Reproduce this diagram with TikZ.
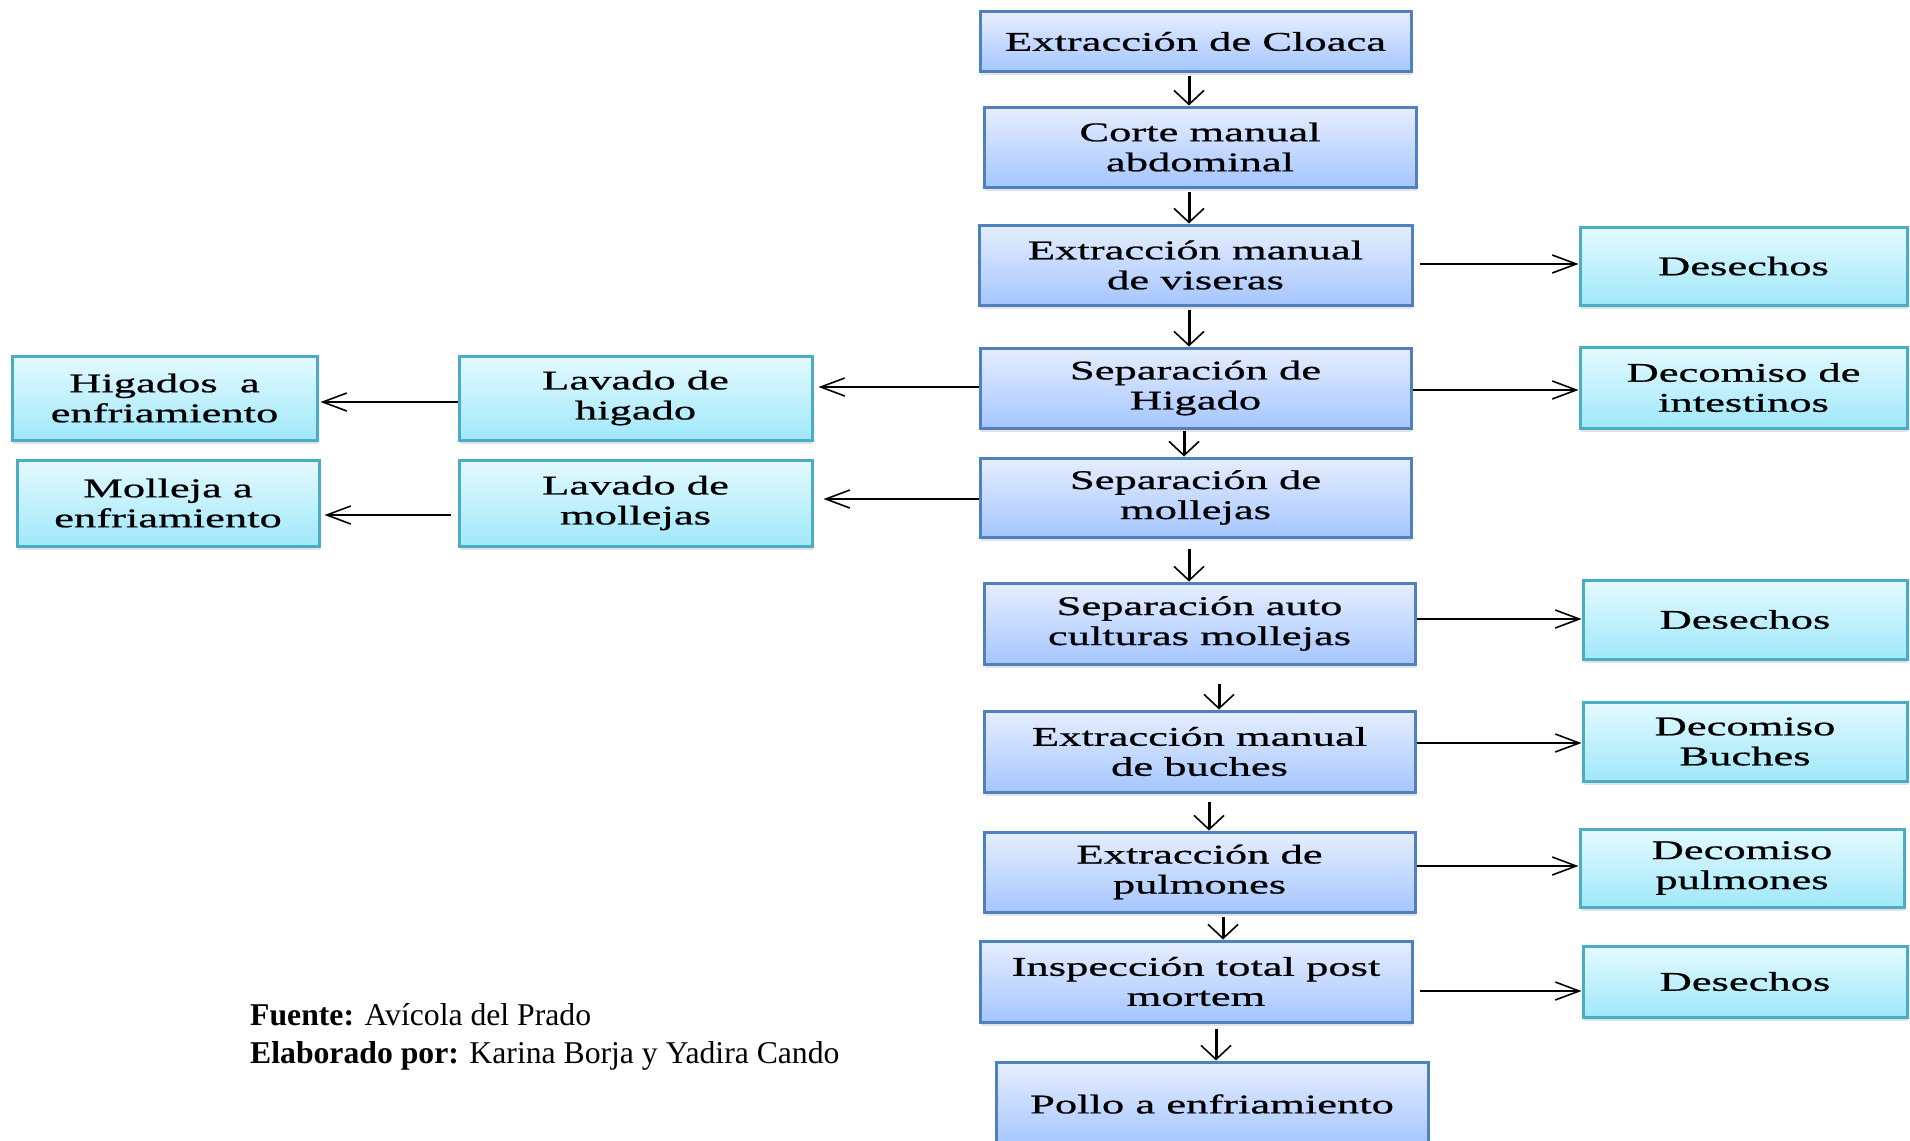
\documentclass[tikz,border=0pt]{standalone}
\usepackage{fontspec}
\setmainfont{Liberation Serif}
\newfontfamily\bxfont[FakeStretch=1.65,FakeBold=0.8]{Liberation Serif}
\usetikzlibrary{arrows.meta,shadows,calc}
\definecolor{mainborder}{RGB}{79,129,189}
\definecolor{maintop}{RGB}{230,238,255}
\definecolor{mainbot}{RGB}{165,198,255}
\definecolor{cyborder}{RGB}{75,172,198}
\definecolor{cytop}{RGB}{228,250,255}
\definecolor{cybot}{RGB}{160,232,250}
\tikzset{
  boxtext/.style={font=\bxfont\fontsize{27}{30}\selectfont, align=center, text=black, inner sep=0pt},
  mainbox/.style={boxtext, draw=mainborder, line width=3pt, top color=maintop, bottom color=mainbot,
    drop shadow={opacity=0.22, shadow xshift=1pt, shadow yshift=-4pt}},
  cybox/.style={boxtext, draw=cyborder, line width=3pt, top color=cytop, bottom color=cybot,
    drop shadow={opacity=0.22, shadow xshift=1pt, shadow yshift=-4pt}},
  varr/.style={line width=3pt, -{Straight Barb[length=14pt,width=30pt,line width=1.6pt]}},
  harr/.style={line width=2.5pt, -{Straight Barb[length=24pt,width=18pt,line width=1.6pt]}},
  foot/.style={font=\fontsize{31.7}{38}\selectfont, anchor=base west, inner sep=0pt}
}
\begin{document}
\begin{tikzpicture}[x=1pt,y=-1pt]
\useasboundingbox (0,0) rectangle (1910,1140);
% main column
\node[mainbox, minimum width=431pt, minimum height=59pt] (M1) at (1195.5,41.5) {Extracción de Cloaca};
\node[mainbox, minimum width=432pt, minimum height=80pt] (M2) at (1200,147) {Corte manual\\abdominal};
\node[mainbox, minimum width=433pt, minimum height=80pt] (M3) at (1195.5,265) {Extracción manual\\de viseras};
\node[mainbox, minimum width=431pt, minimum height=80pt] (M4) at (1195.5,388) {Separación de\\Higado};
\node[mainbox, minimum width=431pt, minimum height=79pt] (M5) at (1195.5,497.5) {Separación de\\mollejas};
\node[mainbox, minimum width=431pt, minimum height=81pt] (M6) at (1199.5,623.5) {Separación auto\\culturas mollejas};
\node[mainbox, minimum width=431pt, minimum height=81pt] (M7) at (1199.5,751.5) {Extracción manual\\de buches};
\node[mainbox, minimum width=431pt, minimum height=80pt] (M8) at (1199.5,872) {Extracción de\\pulmones};
\node[mainbox, minimum width=432pt, minimum height=81pt] (M9) at (1196,981.5) {Inspección total post\\mortem};
\node[mainbox, minimum width=432pt, minimum height=84pt] (M10) at (1212,1104) {Pollo a enfriamiento};
% right column
\node[cybox, minimum width=327pt, minimum height=78pt] (R1) at (1743.5,266) {Desechos};
\node[cybox, minimum width=327pt, minimum height=81pt] (R2) at (1743.5,387.5) {Decomiso de\\intestinos};
\node[cybox, minimum width=324pt, minimum height=79pt] (R3) at (1745,619.5) {Desechos};
\node[cybox, minimum width=324pt, minimum height=79pt] (R4) at (1745,741.5) {Decomiso\\Buches};
\node[cybox, minimum width=324pt, minimum height=78pt] (R5) at (1742,868) {Decomiso\\pulmones};
\node[cybox, minimum width=324pt, minimum height=71pt] (R6) at (1745,981.5) {Desechos};
% left columns
\node[cybox, minimum width=305pt, minimum height=84pt] (L1) at (164.5,398) {Higados\ \ a\\enfriamiento};
\node[cybox, minimum width=353pt, minimum height=84pt] (L2) at (635.5,398) {Lavado de\\higado};
\node[cybox, minimum width=302pt, minimum height=86pt] (L3) at (168,503) {Molleja a\\enfriamiento};
\node[cybox, minimum width=353pt, minimum height=86pt] (L4) at (635.5,503) {Lavado de\\mollejas};
% vertical arrows
\draw[varr, shorten <=3pt] ([xshift=-6.5pt]M1.south) -- ([xshift=-6.5pt]M1.south |- M2.north);
\draw[varr, shorten <=3pt] ([xshift=-11pt]M2.south) -- ([xshift=-11pt]M2.south |- M3.north);
\draw[varr, shorten <=3pt] ([xshift=-6.5pt]M3.south) -- ([xshift=-6.5pt]M3.south |- M4.north);
\draw[varr, shorten <=1pt] ([xshift=-11.5pt]M4.south) -- ([xshift=-11.5pt]M4.south |- M5.north);
\draw[varr, shorten <=10pt] ([xshift=-6.5pt]M5.south) -- ([xshift=-6.5pt]M5.south |- M6.north);
\draw[varr, shorten <=18pt] ([xshift=19.5pt]M6.south) -- ([xshift=19.5pt]M6.south |- M7.north);
\draw[varr, shorten <=8pt] ([xshift=9.5pt]M7.south) -- ([xshift=9.5pt]M7.south |- M8.north);
\draw[varr, shorten <=3pt] ([xshift=23.5pt]M8.south) -- ([xshift=23.5pt]M8.south |- M9.north);
\draw[varr, shorten <=5pt] ([xshift=20pt]M9.south) -- ([xshift=20pt]M9.south |- M10.north);
% right arrows
\draw[harr] ([xshift=6pt,yshift=1pt]M3.east) -- ([yshift=1pt]M3.east -| R1.west);
\draw[harr] ([yshift=-2pt]M4.east) -- ([yshift=-2pt]M4.east -| R2.west);
\draw[harr] ([yshift=4.5pt]M6.east) -- ([yshift=4.5pt]M6.east -| R3.west);
\draw[harr] ([yshift=8.5pt]M7.east) -- ([yshift=8.5pt]M7.east -| R4.west);
\draw[harr] ([yshift=6pt]M8.east) -- ([yshift=6pt]M8.east -| R5.west);
\draw[harr] ([xshift=6pt,yshift=-9.5pt]M9.east) -- ([yshift=-9.5pt]M9.east -| R6.west);
% left arrows
\draw[harr, shorten >=5pt] ([yshift=1pt]M4.west) -- ([yshift=1pt]M4.west -| L2.east);
\draw[harr, shorten >=2pt] ([yshift=-4pt]L2.west) -- ([yshift=-4pt]L2.west -| L1.east);
\draw[harr, shorten >=10pt] ([yshift=-1.5pt]M5.west) -- ([yshift=-1.5pt]M5.west -| L4.east);
\draw[harr, shorten >=4pt, shorten <=7pt] ([yshift=-12pt]L4.west) -- ([yshift=-12pt]L4.west -| L3.east);
% footnote
\node[foot] (F1) at (250,1025) {\textbf{Fuente:} Avícola del Prado};
\node[foot] (F2) at (250,1063) {\textbf{Elaborado por:} Karina Borja y Yadira Cando};
\end{tikzpicture}
\end{document}
